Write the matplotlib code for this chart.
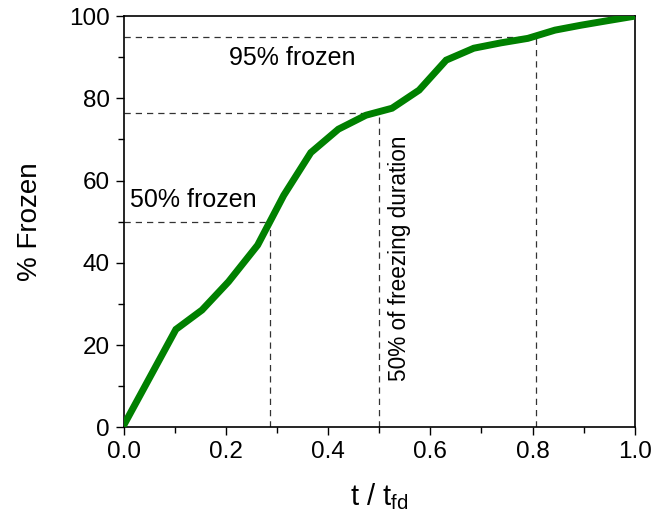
import matplotlib
matplotlib.use("Agg")
import matplotlib.pyplot as plt
from matplotlib.ticker import MultipleLocator

plt.rcParams['font.family'] = ['Liberation Sans', 'DejaVu Sans']
plt.rcParams['mathtext.fontset'] = 'custom'
plt.rcParams['mathtext.rm'] = 'Liberation Sans'
plt.rcParams['mathtext.it'] = 'Liberation Sans:italic'

# frozen fraction vs normalised time
t_norm = [0.0, 0.102, 0.153, 0.205, 0.262, 0.313, 0.366, 0.420, 0.474, 0.525,
          0.578, 0.631, 0.685, 0.738, 0.791, 0.844, 0.895, 0.947, 1.0]
pct_frozen = [0.5, 23.8, 28.5, 35.4, 44.3, 56.4, 66.8, 72.5, 75.9, 77.6,
              82.0, 89.3, 92.2, 93.5, 94.6, 96.6, 97.8, 98.9, 100.0]

# reference markers (x, y)
t50, y50 = 0.287, 50.0
thalf, yhalf = 0.5, 76.4
t95, y95 = 0.806, 95.0

fig = plt.figure(figsize=(6.55, 5.21), dpi=100)
ax = fig.add_axes([0.189, 0.180, 0.780, 0.789])

ax.plot(t_norm, pct_frozen, color='#008000', lw=5, solid_joinstyle='miter', zorder=3)

dash = dict(color='#333333', lw=0.9, ls=(0, (5, 4)), zorder=2)
for tx, yy in [(t50, y50), (thalf, yhalf), (t95, y95)]:
    ax.plot([0, tx], [yy, yy], **dash)
    ax.plot([tx, tx], [0, yy], **dash)

ax.text(0.33, 89.8, '95% frozen', fontsize=18, ha='center', va='center')
ax.text(0.012, 55.2, '50% frozen', fontsize=18, ha='left', va='center')
ax.text(0.54, 41, '50% of freezing duration', fontsize=16.3, rotation=90,
        ha='center', va='center')

ax.set_xlim(0, 1)
ax.set_ylim(0, 100)
ax.xaxis.set_major_locator(MultipleLocator(0.2))
ax.xaxis.set_minor_locator(MultipleLocator(0.1))
ax.yaxis.set_major_locator(MultipleLocator(20))
ax.yaxis.set_minor_locator(MultipleLocator(10))
ax.xaxis.set_major_formatter(matplotlib.ticker.FormatStrFormatter('%.1f'))
ax.tick_params(which='major', direction='out', length=6, width=1, labelsize=17.5, pad=4)
ax.tick_params(which='minor', direction='out', length=4, width=1)
for s in ax.spines.values():
    s.set_linewidth(1.2)

ax.set_xlabel(r't / t$_{\mathrm{fd}}$', fontsize=21, labelpad=13)
ax.set_ylabel('% Frozen', fontsize=20, labelpad=19)

fig.savefig('out.png', dpi=100)
